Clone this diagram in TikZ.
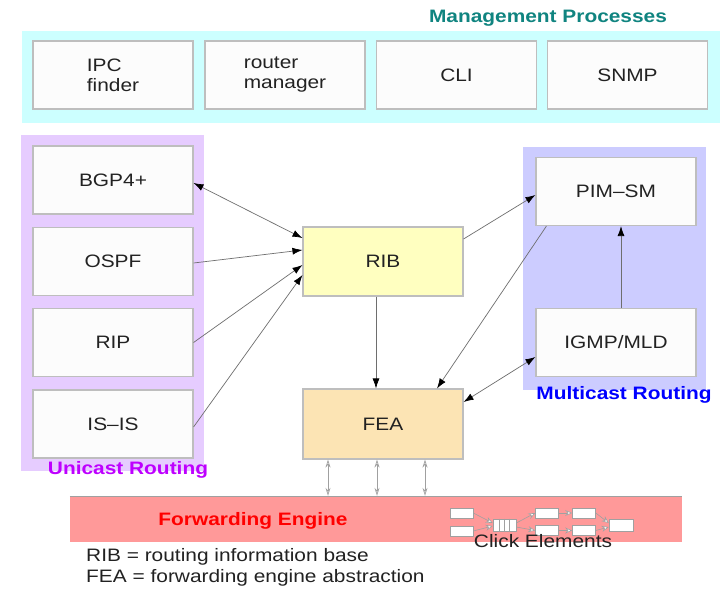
\documentclass[tikz,border=0pt]{standalone}
\usepackage{fontspec}
\setmainfont[FakeStretch=1.16]{Liberation Sans}
\usetikzlibrary{arrows.meta,calc}

\definecolor{cyanbg}{RGB}{204,255,255}
\definecolor{unibg}{RGB}{230,204,255}
\definecolor{multibg}{RGB}{204,204,255}
\definecolor{ribfill}{RGB}{255,255,192}
\definecolor{feafill}{RGB}{252,228,180}
\definecolor{barfill}{RGB}{255,153,153}
\definecolor{boxfill}{RGB}{252,252,252}
\definecolor{boxline}{RGB}{190,190,190}
\definecolor{teallabel}{RGB}{16,132,128}
\definecolor{unilabel}{RGB}{190,0,255}
\definecolor{multilabel}{RGB}{0,0,255}
\definecolor{fwdlabel}{RGB}{255,0,0}
\definecolor{txt}{RGB}{34,34,34}
\definecolor{wire}{RGB}{110,110,110}
\definecolor{softwire}{RGB}{160,160,160}

\tikzset{
  region/.style={draw=none, inner sep=0pt},
  procbox/.style={draw=boxline, fill=boxfill, line width=1.1pt, inner sep=0pt,
    minimum width=160pt, minimum height=68pt, text=txt, align=left,
    font=\fontsize{18}{20}\selectfont},
  grouplabel/.style={inner sep=0pt, font=\bfseries\fontsize{18}{20}\selectfont},
  plain/.style={inner sep=0pt, text=txt, font=\fontsize{18}{20}\selectfont},
  link/.style={draw=wire, line width=0.7pt,
    -{Latex[length=10pt,width=7pt,color=black]}},
  biglink/.style={draw=wire, line width=0.7pt,
    {Latex[length=10pt,width=7pt,color=black]}-{Latex[length=10pt,width=7pt,color=black]}},
  hwlink/.style={draw=softwire, line width=0.7pt,
    {Stealth[open,length=8pt,width=5pt]}-{Stealth[open,length=8pt,width=5pt]}},
  elem/.style={draw=softwire, fill=white, line width=0.6pt, inner sep=0pt,
    minimum width=23pt, minimum height=10pt},
  elink/.style={draw=softwire, line width=0.6pt,
    -{Stealth[fill=white,length=7pt,width=6pt]}},
}

\begin{document}
\begin{tikzpicture}[x=1pt,y=-1pt]
\useasboundingbox (0,0) rectangle (723,615);
\fill[white] (0,0) rectangle (723,615);

% group backgrounds
\node[region, fill=cyanbg, minimum width=698pt, minimum height=92pt] (mgmt) at (371,77) {};
\node[region, fill=unibg, minimum width=183pt, minimum height=336pt] (uni) at (112.5,303) {};
\node[region, fill=multibg, minimum width=183pt, minimum height=243pt] (multi) at (614.5,268.5) {};
\node[region, fill=barfill, minimum width=612pt, minimum height=46pt] (fwd) at (376,519) {};
\draw[softwire, line width=0.6pt] (fwd.north west) -- (fwd.north east);

% management processes
\node[procbox] (ipc) at (113,75) {IPC\\finder};
\node[procbox] (rtrmgr) at (285,75) {router\\manager};
\node[procbox] (cli) at (456.5,75) {CLI};
\node[procbox] (snmp) at (627.5,75) {SNMP};

% unicast routing protocols
\node[procbox] (bgp) at (113,180) {BGP4+};
\node[procbox] (ospf) at (113,261.5) {OSPF};
\node[procbox] (rip) at (113,342.5) {RIP};
\node[procbox] (isis) at (113,424) {IS--IS};

% multicast routing protocols
\node[procbox] (pim) at (616,191.5) {PIM--SM};
\node[procbox] (igmp) at (616,342.5) {IGMP/MLD};

% RIB and FEA
\node[procbox, fill=ribfill, minimum height=69pt] (rib) at (383,261.5) {RIB};
\node[procbox, fill=feafill, minimum height=70pt] (fea) at (383,424) {FEA};

% group labels
\node[grouplabel, text=teallabel] (mgmtlabel) at (548,18) {Management Processes};
\node[grouplabel, text=unilabel] (unilabel) at (128,470) {Unicast Routing};
\node[grouplabel, text=multilabel] (multilabel) at (624,395) {Multicast Routing};
\node[grouplabel, text=fwdlabel] (fwdlabel) at (253,521) {Forwarding Engine};

% routing connections
\draw[biglink] ([yshift=-3pt]bgp.east) -- ([yshift=23.5pt]rib.west);
\draw[link] ([yshift=-1.5pt]ospf.east) -- ([yshift=11.5pt]rib.west);
\draw[link] (rip.east) -- ([yshift=-3.5pt]rib.west);
\draw[link] ([yshift=-3pt]isis.east) -- ([yshift=-13.5pt]rib.west);
\draw[link] ([yshift=22.5pt]rib.east) -- ([yshift=-3.5pt]pim.west);
\draw[link] ([xshift=11pt]pim.south west) -- ([xshift=54pt]fea.north);
\draw[biglink] ([yshift=-14.5pt]igmp.west) -- ([yshift=22pt]fea.east);
\draw[link] ([xshift=5pt]igmp.north) -- ([xshift=5pt]pim.south);
\draw[link] ([xshift=-7pt]rib.south) -- ([xshift=-7pt]fea.north);

% FEA to forwarding engine
\foreach \dx in {-55,-6,42}
  \draw[hwlink] ([xshift=\dx pt]fea.south) -- ([xshift=\dx pt]fea.south |- fwd.north);

% click element graph
\node[elem] (ca) at (461.5,513) {};
\node[elem] (cb) at (461.5,531) {};
\node[elem, minimum height=12pt] (cq) at (504.5,525) {};
\foreach \f in {0.3,0.5,0.7}
  \draw[softwire, line width=0.6pt] ($(cq.north west)!\f!(cq.north east)$) -- ($(cq.south west)!\f!(cq.south east)$);
\node[elem] (cc) at (547,513) {};
\node[elem] (cd) at (547,530.5) {};
\node[elem] (ce) at (584,513) {};
\node[elem] (cf) at (584,530.5) {};
\node[elem, minimum width=24pt, minimum height=12pt] (cg) at (621,525) {};
\draw[elink] (ca.east) -- ([yshift=2pt]cq.west);
\draw[elink] (cb.east) -- ([yshift=-1pt]cq.west);
\draw[elink] ([yshift=2pt]cq.east) -- (cc.west);
\draw[elink] ([yshift=-2pt]cq.east) -- (cd.west);
\draw[elink] (ce.west -| cc.east) -- (ce.west);
\draw[elink] (cf.west -| cd.east) -- (cf.west);
\draw[elink] (ce.east) -- ([yshift=2pt]cg.west);
\draw[elink] (cf.east) -- ([yshift=-2pt]cg.west);
\node[plain] (clicklabel) at (543,541) {Click Elements};

% legend
\node[plain, anchor=west] (legrib) at (86,557) {RIB = routing information base};
\node[plain, anchor=west] (legfea) at (86,578) {FEA = forwarding engine abstraction};
\end{tikzpicture}
\end{document}
